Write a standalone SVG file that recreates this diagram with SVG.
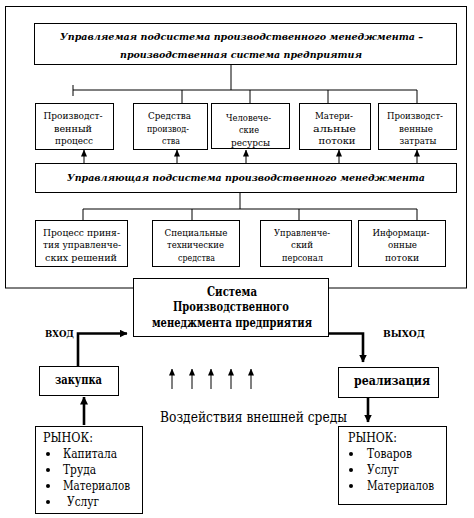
<svg xmlns="http://www.w3.org/2000/svg" width="474" height="518" viewBox="0 0 474 518">
<style>
text{font-family:'DejaVu Serif','Liberation Serif',serif;fill:#000}
.box{fill:#fff;stroke:#000;stroke-width:1}
.ln{fill:none;stroke:#000;stroke-width:1}
.thk{fill:none;stroke:#000;stroke-width:2.6}
.t{font-size:10px;text-anchor:middle}
.hi{font-size:10px;font-weight:bold;font-style:italic;text-anchor:middle}
.b{font-size:12.5px;font-weight:bold;text-anchor:middle}
.sm{font-size:9.5px;font-weight:bold}
.m{font-size:12px}
.env{font-size:14px;text-anchor:middle}
</style>
<defs>
<marker id="ah" markerWidth="7" markerHeight="6" refX="6.5" refY="3" orient="auto" markerUnits="userSpaceOnUse" viewBox="0 0 7 6">
<path d="M0,0 L7,3 L0,6 Z" fill="#000"/>
</marker>
<marker id="ahk" markerWidth="8" markerHeight="8" refX="7.5" refY="4" orient="auto" markerUnits="userSpaceOnUse" viewBox="0 0 8 8">
<path d="M0,0 L8,4 L0,8 Z" fill="#000"/>
</marker>
</defs>
<rect width="474" height="518" fill="#fff"/>
<g id="frame"><rect x="5.5" y="6.5" width="461" height="281.5" class="box"/></g>
<g id="connectors">
<path class="ln" d="M231,64 V90 M73,90 H417 M73,85 V96 M182,90 V103 M250,90 V103 M328,90 V103 M417,90 V103"/>
<line class="ln" x1="84" y1="167" x2="84" y2="150" marker-end="url(#ah)"/>
<line class="ln" x1="177" y1="167" x2="177" y2="150" marker-end="url(#ah)"/>
<line class="ln" x1="246" y1="167" x2="246" y2="150" marker-end="url(#ah)"/>
<line class="ln" x1="339" y1="167" x2="339" y2="150" marker-end="url(#ah)"/>
<line class="ln" x1="417" y1="167" x2="417" y2="150" marker-end="url(#ah)"/>
<path class="ln" d="M240,192 V209 M83,209 H417 M83,209 V220 M192,209 V220 M299,209 V220 M417,209 V220"/>
<line class="ln" x1="172" y1="389" x2="172" y2="369" marker-end="url(#ah)"/>
<line class="ln" x1="192" y1="389" x2="192" y2="369" marker-end="url(#ah)"/>
<line class="ln" x1="211" y1="389" x2="211" y2="369" marker-end="url(#ah)"/>
<line class="ln" x1="231" y1="389" x2="231" y2="369" marker-end="url(#ah)"/>
<line class="ln" x1="251" y1="389" x2="251" y2="369" marker-end="url(#ah)"/>
<path class="thk" d="M78,366 V333.5 H127" marker-end="url(#ahk)"/>
<path class="thk" d="M329,333.5 H363 V362" marker-end="url(#ahk)"/>
<path class="thk" d="M84,425 V397" marker-end="url(#ahk)"/>
<path class="thk" d="M368,397 V422" marker-end="url(#ahk)"/>
</g>
<g id="managed">
<rect x="34.5" y="23.5" width="422" height="41" class="box"/>
<text class="hi" x="241.5" y="40" textLength="363" lengthAdjust="spacingAndGlyphs">Управляемая подсистема производственного менеджмента –</text>
<text class="hi" x="241" y="58" textLength="242" lengthAdjust="spacingAndGlyphs">производственная система предприятия</text>
</g>
<g id="n1"><rect x="35.5" y="103.5" width="78" height="46" class="box"/>
<text class="t" x="73" y="119" textLength="59" lengthAdjust="spacingAndGlyphs">Производст-</text>
<text class="t" x="73" y="132" textLength="38" lengthAdjust="spacingAndGlyphs">венный</text>
<text class="t" x="74" y="144" textLength="38" lengthAdjust="spacingAndGlyphs">процесс</text></g>
<g id="n2"><rect x="133.5" y="103.5" width="74" height="46" class="box"/>
<text class="t" x="169.5" y="119" textLength="43" lengthAdjust="spacingAndGlyphs">Средства</text>
<text class="t" x="168" y="132" textLength="42" lengthAdjust="spacingAndGlyphs">производ-</text>
<text class="t" x="171" y="144" textLength="18" lengthAdjust="spacingAndGlyphs">ства</text></g>
<g id="n3"><rect x="211.5" y="103.5" width="78" height="45" class="box"/>
<text class="t" x="248.5" y="121" textLength="45" lengthAdjust="spacingAndGlyphs">Человече-</text>
<text class="t" x="249" y="133" textLength="20" lengthAdjust="spacingAndGlyphs">ские</text>
<text class="t" x="250.5" y="146" textLength="39" lengthAdjust="spacingAndGlyphs">ресурсы</text></g>
<g id="n4"><rect x="299.5" y="103.5" width="71" height="46" class="box"/>
<text class="t" x="334" y="119" textLength="38" lengthAdjust="spacingAndGlyphs">Матери-</text>
<text class="t" x="334.5" y="132" textLength="43" lengthAdjust="spacingAndGlyphs">альные</text>
<text class="t" x="337" y="144" textLength="37" lengthAdjust="spacingAndGlyphs">потоки</text></g>
<g id="n5"><rect x="378.5" y="103.5" width="78" height="46" class="box"/>
<text class="t" x="415" y="119" textLength="56" lengthAdjust="spacingAndGlyphs">Производст-</text>
<text class="t" x="416" y="132" textLength="34" lengthAdjust="spacingAndGlyphs">венные</text>
<text class="t" x="418" y="144" textLength="37" lengthAdjust="spacingAndGlyphs">затраты</text></g>
<g id="managing">
<rect x="35.5" y="163.5" width="421" height="29" class="box"/>
<text class="hi" x="246" y="181" textLength="358" lengthAdjust="spacingAndGlyphs">Управляющая подсистема производственного менеджмента</text>
</g>
<g id="m1"><rect x="35.5" y="220.5" width="92" height="46" class="box"/>
<text class="t" x="81.5" y="236" textLength="77" lengthAdjust="spacingAndGlyphs">Процесс приня-</text>
<text class="t" x="82" y="248" textLength="78" lengthAdjust="spacingAndGlyphs">тия управленче-</text>
<text class="t" x="81" y="261" textLength="72" lengthAdjust="spacingAndGlyphs">ских решений</text></g>
<g id="m2"><rect x="152.5" y="220.5" width="87" height="46" class="box"/>
<text class="t" x="196" y="236" textLength="63" lengthAdjust="spacingAndGlyphs">Специальные</text>
<text class="t" x="195.5" y="248" textLength="57" lengthAdjust="spacingAndGlyphs">технические</text>
<text class="t" x="196.5" y="261" textLength="37" lengthAdjust="spacingAndGlyphs">средства</text></g>
<g id="m3"><rect x="260.5" y="220.5" width="91" height="46" class="box"/>
<text class="t" x="302" y="236" textLength="56" lengthAdjust="spacingAndGlyphs">Управленче-</text>
<text class="t" x="302" y="248" textLength="22" lengthAdjust="spacingAndGlyphs">ский</text>
<text class="t" x="302.5" y="261" textLength="41" lengthAdjust="spacingAndGlyphs">персонал</text></g>
<g id="m4"><rect x="358.5" y="220.5" width="87" height="46" class="box"/>
<text class="t" x="401" y="236" textLength="57" lengthAdjust="spacingAndGlyphs">Информаци-</text>
<text class="t" x="402.5" y="248" textLength="29" lengthAdjust="spacingAndGlyphs">онные</text>
<text class="t" x="402" y="261" textLength="34" lengthAdjust="spacingAndGlyphs">потоки</text></g>
<g id="system">
<rect x="133.5" y="278.5" width="195" height="58" class="box"/>
<text class="b" x="232" y="296" textLength="50" lengthAdjust="spacingAndGlyphs">Система</text>
<text class="b" x="231" y="311" textLength="116" lengthAdjust="spacingAndGlyphs">Производственного</text>
<text class="b" x="232" y="327" textLength="160" lengthAdjust="spacingAndGlyphs">менеджмента предприятия</text>
</g>
<g id="labels">
<text class="sm" x="45" y="337" textLength="29" lengthAdjust="spacingAndGlyphs">ВХОД</text>
<text class="sm" x="383" y="337" textLength="42" lengthAdjust="spacingAndGlyphs">ВЫХОД</text>
<text class="env" x="253.5" y="422" textLength="187" lengthAdjust="spacingAndGlyphs">Воздействия внешней среды</text>
</g>
<g id="purchase"><rect x="39.5" y="366.5" width="79" height="29" class="box"/>
<text class="b" x="78.5" y="384" font-size="11.5" textLength="47" lengthAdjust="spacingAndGlyphs">закупка</text></g>
<g id="sales"><rect x="338.5" y="367.5" width="100" height="30" class="box"/>
<text class="b" x="392" y="385" font-size="11.5" textLength="76" lengthAdjust="spacingAndGlyphs">реализация</text></g>
<g id="market-in"><rect x="35.5" y="426.5" width="107" height="87" class="box"/>
<text class="m" x="43" y="442" textLength="50" lengthAdjust="spacingAndGlyphs">РЫНОК:</text>
<circle cx="48" cy="454" r="2"/><text class="m" x="63" y="458" textLength="54" lengthAdjust="spacingAndGlyphs">Капитала</text>
<circle cx="48" cy="470" r="2"/><text class="m" x="63" y="474" textLength="33" lengthAdjust="spacingAndGlyphs">Труда</text>
<circle cx="48" cy="486" r="2"/><text class="m" x="63" y="490" textLength="67" lengthAdjust="spacingAndGlyphs">Материалов</text>
<circle cx="48" cy="502" r="2"/><text class="m" x="67" y="506" textLength="32" lengthAdjust="spacingAndGlyphs">Услуг</text></g>
<g id="market-out"><rect x="338.5" y="426.5" width="108" height="78" class="box"/>
<text class="m" x="348" y="442" textLength="49" lengthAdjust="spacingAndGlyphs">РЫНОК:</text>
<circle cx="351" cy="454" r="2"/><text class="m" x="367" y="458" textLength="45" lengthAdjust="spacingAndGlyphs">Товаров</text>
<circle cx="351" cy="470" r="2"/><text class="m" x="367" y="474" textLength="32" lengthAdjust="spacingAndGlyphs">Услуг</text>
<circle cx="351" cy="486" r="2"/><text class="m" x="367" y="490" textLength="67" lengthAdjust="spacingAndGlyphs">Материалов</text></g>
</svg>
